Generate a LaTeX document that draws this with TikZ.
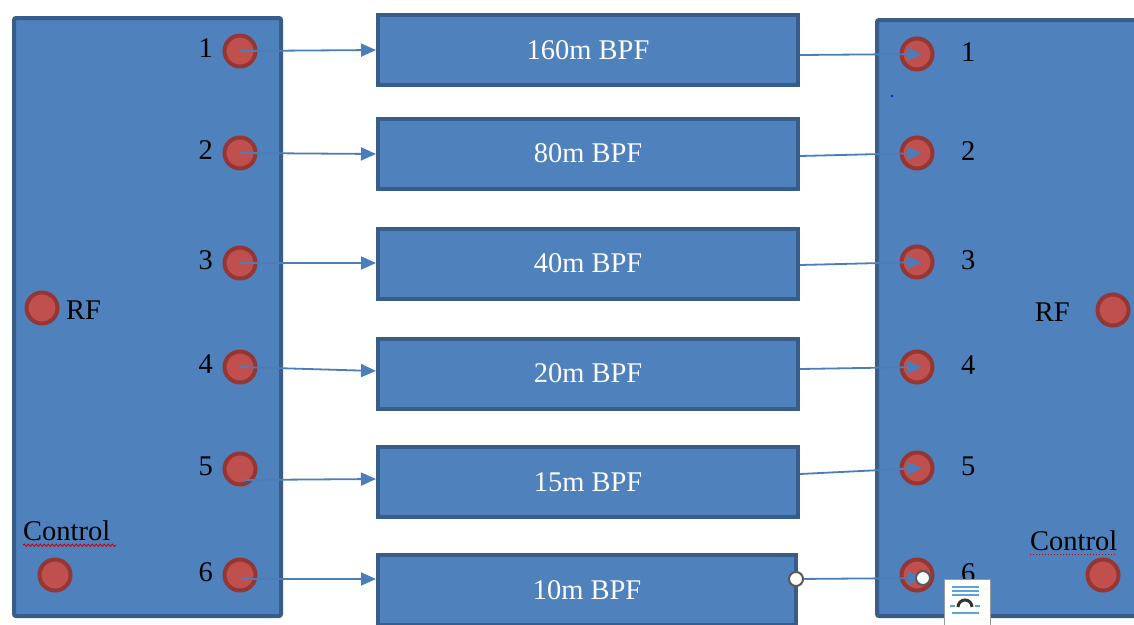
\documentclass[tikz,border=0pt]{standalone}
\usepackage{fontspec}
\setmainfont{Liberation Serif}
\usetikzlibrary{arrows.meta,decorations.pathmorphing,calc}
\definecolor{panelfill}{HTML}{4F81BD}
\definecolor{panelline}{HTML}{385D8A}
\definecolor{portfill}{HTML}{C0504D}
\definecolor{portline}{HTML}{943634}
\definecolor{arrowc}{HTML}{4A7EBB}
\definecolor{iconblue}{HTML}{5BA3D9}
\tikzset{
  panel/.style={draw=panelline,fill=panelfill,line width=4pt,rounded corners=2pt},
  filterbox/.style={draw=panelline,fill=panelfill,line width=4pt,minimum width=420pt,minimum height=70pt,inner sep=0pt,text=white,font=\fontsize{28.5}{30}\selectfont},
  port/.style={circle,draw=portline,fill=portfill,line width=4pt,minimum size=31pt,inner sep=0pt},
  lbl/.style={font=\fontsize{28.5}{30}\selectfont,inner sep=0pt,text=black},
  conn/.style={draw=arrowc,line width=1.8pt,-{Triangle[length=15pt,width=13pt]}},
  handle/.style={circle,draw=black!65,fill=white,line width=2pt,minimum size=14pt,inner sep=0pt},
  iconline/.style={draw=iconblue,line width=1.6pt}
}
\begin{document}
\begin{tikzpicture}[x=1pt,y=-1pt]
\useasboundingbox (0,0) rectangle (1134,624);
\clip (0,0) rectangle (1134,624);
% panels
\path[panel] (14,18) rectangle (281,616);
\path[panel] (877,20) rectangle (1145,616);
% filter boxes
\node[filterbox] (b1) at (588,50) {160m BPF};
\node[filterbox] (b2) at (588,153.5) {80m BPF};
\node[filterbox] (b3) at (588,263.5) {40m BPF};
\node[filterbox] (b4) at (588,373.5) {20m BPF};
\node[filterbox] (b5) at (588,482) {15m BPF};
\node[filterbox,minimum width=418pt] (b6) at (587,590) {10m BPF};
% left ports
\foreach \i/\y in {1/51,2/153,3/263,4/367,5/469,6/575}{
  \node[port] (lp\i) at (240,\y) {};
  \node[lbl,anchor=east] (ln\i) at (213,\y-3) {\i};
}
% right ports
\foreach \i/\y in {1/54,2/153,3/262,4/367,5/468,6/575}{
  \node[port] (rp\i) at (917,\y) {};
  \node[lbl,anchor=west] (rn\i) at (961,\y-2) {\i};
}
% RF and control (left)
\node[port] (lrf) at (42,308) {};
\node[lbl,anchor=west] (lrft) at (66,310) {RF};
\node[lbl,anchor=west] (lct) at (23,531) {Control};
\node[port] (lcp) at (55,575) {};
% RF and control (right)
\node[port] (rrf) at (1113,310) {};
\node[lbl,anchor=east] (rrft) at (1070,312) {RF};
\node[lbl,anchor=west] (rct) at (1030,541) {Control};
\node[port] (rcp) at (1103,575) {};
% spell-check underlines
\draw[red!80!black,line width=0.8pt,decorate,decoration={snake,amplitude=1.2pt,segment length=4pt}] (lct.south west) ++(0,4) -- ++(93,0);
\draw[red!80!black,line width=1pt,dotted] (rct.south west) ++(0,3) -- ++(87,0);
% left connectors
\draw[conn] (lp1.center) -- (b1.west |- 0,50);
\draw[conn] (lp2.center) -- (b2.west |- 0,154);
\draw[conn] (lp3.center) -- (b3.west |- 0,263);
\draw[conn] (lp4.center) -- (b4.west |- 0,371);
\draw[conn] ($(lp5.center)+(3,11)$) -- (b5.west |- 0,479);
\draw[conn] ($(lp6.center)+(2,4)$) -- (b6.west |- 0,579);
% right connectors
\draw[conn] (b1.east |- 0,55) -- ($(rp1.center)+(5,0)$);
\draw[conn] (b2.east |- 0,156) -- ($(rp2.center)+(5,0)$);
\draw[conn] (b3.east |- 0,265) -- ($(rp3.center)+(5,0)$);
\draw[conn] (b4.east |- 0,369) -- ($(rp4.center)+(5,0)$);
\draw[conn] (b5.east |- 0,474) -- ($(rp5.center)+(5,0)$);
\coordinate (h1) at (796,579);
\coordinate (h2) at (923,578);
\draw[conn] (h1) -- (h2);
\node[handle] (hh1) at (h1) {};
\node[handle] (hh2) at (h2) {};
% layout options icon
\draw[black!40,fill=white,line width=1pt] (944,579) rectangle (990,630);
\draw[iconline] (952,587) -- (979,587);
\draw[iconline] (952,591) -- (979,591);
\draw[iconline] (952,595) -- (979,595);
\draw[iconline] (950,606) -- (955,606);
\draw[iconline] (975,606) -- (980,606);
\draw[iconline] (952,613) -- (979,613);
\draw[black!80,line width=3pt] (958,607) arc[start angle=180,end angle=360,radius=7];
% stray dot
\fill[blue] (892,96) circle (1.2);
\end{tikzpicture}
\end{document}
